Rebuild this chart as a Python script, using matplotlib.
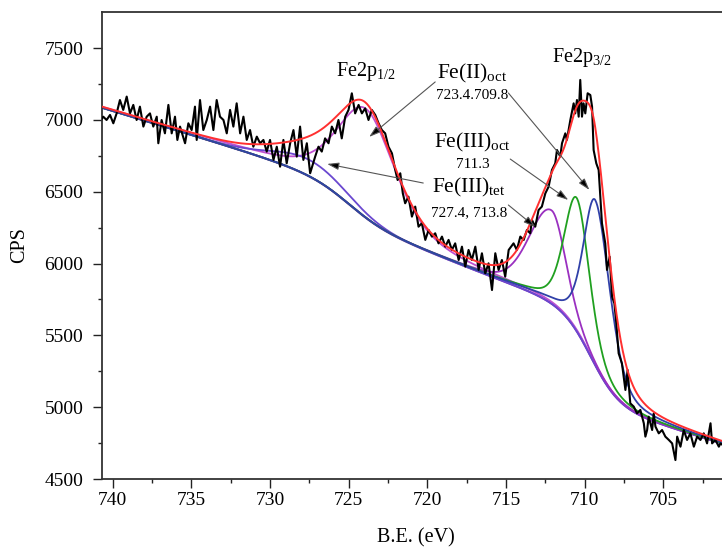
import numpy as np
import matplotlib
matplotlib.use("Agg")
import matplotlib.pyplot as plt

plt.rcParams["font.family"] = ["Liberation Serif", "DejaVu Serif"]
plt.rcParams["mathtext.fontset"] = "custom"
plt.rcParams["mathtext.rm"] = "Liberation Serif"
plt.rcParams["mathtext.it"] = "Liberation Serif:italic"

# ---- measured Fe 2p spectrum (binding energy in eV, counts per second) ----
be_raw = [
    740.68, 740.6, 740.39, 740.17, 739.96, 739.75, 739.54, 739.33, 739.11, 738.9,
    738.69, 738.48, 738.27, 738.05, 737.84, 737.63, 737.42, 737.2, 737.1, 736.89,
    736.68, 736.46, 736.25, 736.04, 735.89, 735.72, 735.4, 735.19, 734.98, 734.77,
    734.66, 734.45, 734.24, 734.02, 733.81, 733.6, 733.39, 733.18, 732.96, 732.75,
    732.54, 732.33, 732.12, 731.9, 731.69, 731.48, 731.27, 731.06, 730.84, 730.63,
    730.42, 730.21, 730.0, 729.78, 729.57, 729.36, 729.15, 728.94, 728.72, 728.51,
    728.3, 728.09, 727.88, 727.66, 727.45,
    727.13, 726.92, 726.71, 726.5, 726.28, 726.07, 725.86, 725.65, 725.44, 725.22,
    725.01, 724.8, 724.59, 724.37, 724.16, 723.95, 723.74, 723.53, 723.31, 723.1,
    722.89, 722.68, 722.47, 722.25, 722.04, 721.89, 721.72, 721.56, 721.41, 721.2,
    720.98, 720.77, 720.56, 720.35, 720.13, 719.92, 719.71, 719.5, 719.29, 719.07,
    718.86, 718.65, 718.44, 718.23, 718.01, 717.8, 717.59, 717.38, 717.17, 716.95,
    716.74, 716.53, 716.32, 716.11, 715.89, 715.68, 715.47, 715.26, 715.05, 714.83,
    714.52, 714.31, 714.09, 713.88, 713.67, 713.46, 713.35, 713.14, 712.93, 712.72,
    712.5, 712.29, 712.08, 711.87, 711.76, 711.55, 711.44, 711.23, 711.13, 710.91,
    710.7, 710.6, 710.49, 710.38, 710.28, 710.17, 710.07, 709.96, 709.81, 709.64,
    709.53, 709.43, 709.26, 709.11, 708.9, 708.69, 708.58, 708.41, 708.26, 708.11,
    707.99, 707.84, 707.63, 707.41, 707.27, 707.1,
    706.88, 706.67, 706.46, 706.24, 706.14, 706.03, 705.93, 705.71, 705.61, 705.5,
    705.29, 705.08, 704.87, 704.65, 704.44, 704.23, 704.12, 703.91, 703.7, 703.49,
    703.28, 703.06, 702.85, 702.64, 702.43, 702.22, 702.0, 701.9, 701.69, 701.47,
    701.37, 701.27,
]
cps_raw = [
    7010, 7023, 7000, 7035, 6977, 7046, 7139, 7070, 7163, 7046,
    7105, 7000, 7093, 6954, 7023, 7046, 6954, 7023, 6838, 7000,
    6907, 7105, 6907, 7023, 6861, 6954, 6838, 6977, 6930, 7093,
    6861, 7139, 6930, 7000, 7093, 6930, 7139, 7023, 7000, 6907,
    7070, 6954, 7116, 6907, 7023, 6861, 6930, 6814, 6884, 6838,
    6861, 6780, 6861, 6722, 6814, 6675, 6861, 6698, 6838, 6930,
    6745, 6954, 6722, 6838, 6629,
    6745, 6814, 6780, 6872, 6838, 6954, 6907, 7000, 6872, 7023,
    7070, 7186, 7046, 7105, 7046, 7081, 7000, 7070, 7035, 6977,
    6930, 6907, 6814, 6768, 6652, 6582, 6629, 6490, 6420, 6466,
    6327, 6397, 6257, 6281, 6165, 6234, 6188, 6211, 6141, 6188,
    6118, 6165, 6095, 6141, 6025, 6118, 5979, 6095, 6025, 6118,
    5956, 6072, 5932, 6002, 5816, 6072, 5956, 6025, 5909, 6095,
    6141, 6095, 6188, 6164, 6234, 6211, 6304, 6257, 6373, 6397,
    6489, 6536, 6652, 6698, 6791, 6745, 6838, 6907, 6861, 7000,
    7116, 7046, 7139, 7023, 7279, 7023, 7116, 7046, 7186, 7174,
    7093, 6791, 6698, 6652, 6281, 6141, 5956, 6048, 5770, 5723,
    5584, 5375, 5305, 5120, 5259, 5027,
    5004, 4957, 4981, 4888, 4795, 4841, 4934, 4841, 4957, 4865,
    4818, 4841, 4795, 4772, 4748, 4632, 4795, 4725, 4841, 4772,
    4818, 4725, 4795, 4772, 4818, 4748, 4888, 4748, 4772, 4725,
    4748, 4740,
]

# ---- background: linear term plus sigmoidal (Shirley-like) steps ----
bg_ref_be = 701.4
bg_ref_cps = 4750.0
bg_slope = 33.0
step_centers = [709.6, 725.0, 719.0]
step_heights = [630.0, 250.0, 160.0]
step_widths = [0.9, 1.2, 4.0]

# ---- fitted components (pseudo-Voigt, separate widths on each side) ----
peak_centers = [723.9, 727.5, 712.1, 710.5, 709.32]
peak_heights = [760.0, 115.0, 650.0, 928.0, 1150.0]
fwhm_high_be = [4.4, 5.5, 3.3, 1.9, 1.8]
fwhm_low_be = [4.5, 5.5, 2.1, 1.9, 2.2]
lorentz_frac = [0.5, 0.0, 0.2, 0.4, 0.4]
peak_colors = ["#c050d0", "#6a48d0", "#9a30c0", "#20a020", "#3040a8"]

# broad unresolved intensity under Fe2p3/2, included in the envelope only
extra_center = 709.4
extra_height = 135.0
extra_fwhm = 3.6

bg_color = "#7a30b0"
envelope_color = "#ff3030"

x_ticks = [740, 735, 730, 725, 720, 715, 710, 705]
y_ticks = [4500, 5000, 5500, 6000, 6500, 7000, 7500]


def background(e):
    b = bg_ref_cps + bg_slope * (e - bg_ref_be)
    for c, h, w in zip(step_centers, step_heights, step_widths):
        b = b + h / (1.0 + np.exp(-(e - c) / w))
    return b


def pseudo_voigt(e, c, h, w_hi, w_lo, m):
    w = np.where(e > c, w_hi, w_lo)
    u = (e - c) / w
    g = np.exp(-4.0 * np.log(2.0) * u ** 2)
    lz = 1.0 / (1.0 + 4.0 * u ** 2)
    return h * ((1.0 - m) * g + m * lz)


e = np.linspace(740.68, 701.27, 1200)
bg = background(e)
peaks = [pseudo_voigt(e, c, h, wh, wl, m)
         for c, h, wh, wl, m in zip(peak_centers, peak_heights,
                                     fwhm_high_be, fwhm_low_be, lorentz_frac)]
extra = pseudo_voigt(e, extra_center, extra_height, extra_fwhm, extra_fwhm, 0.0)
envelope = bg + np.sum(peaks, axis=0) + extra

fig = plt.figure(figsize=(7.22, 5.51), dpi=100)
ax = fig.add_axes([102 / 722, 1 - 479 / 551, 620 / 722, 467 / 551])

ax.plot(e, bg, color=bg_color, lw=1.5, zorder=2)
for p, col in zip(peaks, peak_colors):
    ax.plot(e, bg + p, color=col, lw=1.3, zorder=2)
ax.plot(be_raw, cps_raw, color="black", lw=1.5, zorder=3)
ax.plot(e, envelope, color=envelope_color, lw=1.4, zorder=4)

ax.set_xlim(740.68, 701.27)
ax.set_ylim(4500, 7752)
ax.set_xticks(x_ticks)
ax.set_xticks([737.5, 732.5, 727.5, 722.5, 717.5, 712.5, 707.5, 702.5], minor=True)
ax.set_yticks(y_ticks)
ax.set_yticks([4750, 5250, 5750, 6250, 6750, 7250], minor=True)
ax.tick_params(axis="both", which="major", direction="out", length=6.5,
               width=1.0, labelsize=14, color="#222222")
ax.tick_params(axis="both", which="minor", direction="out", length=3.2,
               width=1.0, color="#222222")
ax.tick_params(axis="y", which="major", pad=7)
ax.tick_params(axis="x", which="major", pad=3)

for side in ("left", "bottom", "top"):
    ax.spines[side].set_linewidth(1.3)
    ax.spines[side].set_color("#333333")
ax.spines["right"].set_visible(False)

fig.text(20 / 722, 1 - 245 / 551, "CPS", rotation=90, ha="center", va="center",
         fontsize=14.5)
fig.text(415.5 / 722, 1 - 538 / 551, "B.E. (eV)", ha="center", va="center",
         fontsize=14.5)

# ---- peak labels ----
ax.text(723.89, 7306, r"Fe2p$_{1/2}$", ha="center", va="baseline", fontsize=14.5)
ax.text(710.21, 7404, r"Fe2p$_{3/2}$", ha="center", va="baseline", fontsize=14.5)
ax.text(717.14, 7292, r"Fe(II)$_{\mathrm{oct}}$", ha="center", va="baseline", fontsize=15.5)
ax.text(717.14, 7146, "723.4.709.8", ha="center", va="baseline", fontsize=11)
ax.text(717.11, 6812, r"Fe(III)$_{\mathrm{oct}}$", ha="center", va="baseline", fontsize=15.5)
ax.text(717.14, 6666, "711.3", ha="center", va="baseline", fontsize=11)
ax.text(717.37, 6492, r"Fe(III)$_{\mathrm{tet}}$", ha="center", va="baseline", fontsize=15.5)
ax.text(717.37, 6332, "727.4, 713.8", ha="center", va="baseline", fontsize=11)

arrows = [
    ((719.50, 7265), (723.70, 6882)),
    ((714.85, 7188), (709.70, 6513)),
    ((714.73, 6728), (711.04, 6443)),
    ((720.26, 6561), (726.37, 6694)),
    ((714.85, 6408), (713.14, 6255)),
]
for start, tip in arrows:
    ax.annotate("", xy=tip, xytext=start,
                arrowprops=dict(arrowstyle="-|>,head_length=0.7,head_width=0.22",
                                lw=0.8, ec="#555555", fc="black",
                                shrinkA=0, shrinkB=0),
                zorder=6)

fig.savefig("out.png", dpi=100)
